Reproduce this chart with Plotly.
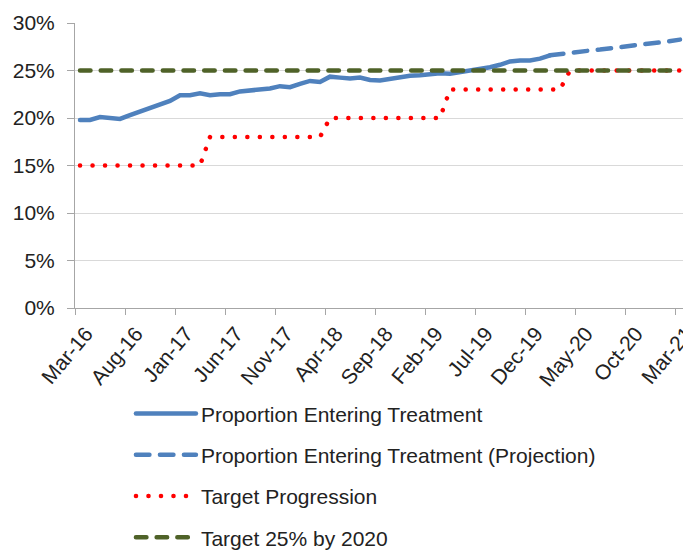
import pandas as pd
import plotly.graph_objects as go

# Monthly categories, Mar-16 to Mar-21
MONTHS = pd.period_range("2016-03", "2021-03", freq="M").strftime("%b-%y").tolist()
TICK_LABELS = ["Mar-16", "Aug-16", "Jan-17", "Jun-17", "Nov-17", "Apr-18", "Sep-18",
               "Feb-19", "Jul-19", "Dec-19", "May-20", "Oct-20", "Mar-21"]

# Proportion entering treatment (%), Mar-16 .. Feb-20
ACTUAL = [19.8, 19.8, 20.1, 20.0, 19.9, 20.3, 20.65, 21.0, 21.4, 21.8,
          22.4, 22.4, 22.6, 22.4, 22.5, 22.5, 22.8, 22.9, 23.0, 23.1,
          23.35, 23.25, 23.6, 23.9, 23.8, 24.35, 24.25, 24.15, 24.25, 24.0,
          23.95, 24.15, 24.3, 24.45, 24.5, 24.6, 24.7, 24.65, 24.8, 24.95,
          25.2, 25.35, 25.6, 25.95, 26.05, 26.05, 26.25, 26.6]
# Projection (%), Feb-20 .. Mar-21
PROJECTION = [26.6, 26.75, 26.85, 27.0, 27.1, 27.2, 27.35, 27.45, 27.6, 27.7,
              27.85, 27.95, 28.1, 28.25]
# Target progression by financial year (%)
TARGET_PROGRESSION = [15.0] * 13 + [18.0] * 12 + [20.0] * 12 + [23.0] * 12 + [25.0] * 12
# Flat 25% target
TARGET_2020 = [25.0] * 61

x_all = list(range(len(MONTHS)))
x_actual = x_all[:len(ACTUAL)]
x_proj = x_all[len(ACTUAL) - 1:len(ACTUAL) - 1 + len(PROJECTION)]

BLUE = "#4F81BD"
RED = "#FF0000"
OLIVE = "#4F6228"
TEXT = "#222222"
FONT = "Liberation Sans, Arial, sans-serif"

fig = go.Figure()
fig.add_trace(go.Scatter(x=x_actual, y=ACTUAL, mode="lines",
                         name="Proportion Entering Treatment", legendgroup="a",
                         line=dict(color=BLUE, width=4.5)))
fig.add_trace(go.Scatter(x=x_proj, y=PROJECTION, mode="lines",
                         name="Proportion Entering Treatment (Projection)", legendgroup="b",
                         line=dict(color=BLUE, width=4.5, dash="13.5px,10.5px")))
fig.add_trace(go.Scatter(x=x_all, y=TARGET_PROGRESSION, mode="lines",
                         name="Target Progression", legendgroup="c",
                         line=dict(color=RED, width=4.5, dash="0.1px,12.4px")))
fig.add_trace(go.Scatter(x=x_all, y=TARGET_2020, mode="lines",
                         name="Target 25% by 2020", legendgroup="d",
                         line=dict(color=OLIVE, width=4.5, dash="10.5px,10.2px")))

tickvals = [MONTHS.index(t) for t in TICK_LABELS]
boundaries = [v - 0.5 for v in tickvals]

fig.update_layout(
    width=683, height=550,
    margin=dict(l=75, r=0, t=23, b=242),
    paper_bgcolor="white", plot_bgcolor="white",
    font=dict(family=FONT, size=21, color=TEXT),
    showlegend=True,
    legend=dict(x=0.092, y=0.285, xref="paper", yref="container",
                xanchor="left", yanchor="top",
                traceorder="grouped", tracegroupgap=11, itemwidth=60,
                font=dict(family=FONT, size=21, color=TEXT),
                bgcolor="rgba(0,0,0,0)"),
    xaxis=dict(range=[-0.5, 60.3], tickmode="array", tickvals=tickvals,
               ticktext=TICK_LABELS, tickangle=-50, ticks="",
               ticklabelshift=6, ticklabelstandoff=4, ticklabeloverflow="allow",
               showline=True, linecolor="#A6A6A6", linewidth=1,
               showgrid=False, zeroline=False, automargin=False,
               tickfont=dict(family=FONT, size=21, color=TEXT),
               minor=dict(tickmode="array", tickvals=boundaries, ticks="outside",
                          ticklen=6, tickcolor="#A6A6A6", tickwidth=1, showgrid=False)),
    yaxis=dict(range=[0, 30], tickmode="linear", tick0=0, dtick=5, ticksuffix="%",
               showline=True, linecolor="#A6A6A6", linewidth=1,
               ticks="outside", ticklen=7, tickcolor="#A6A6A6",
               showgrid=True, gridcolor="#D9D9D9", gridwidth=1,
               zeroline=False, automargin=False, ticklabelstandoff=8,
               tickfont=dict(family=FONT, size=21, color=TEXT)),
)

# Rounded line caps so dotted and dashed strokes render as round dots / pills
post = ("document.querySelectorAll('#{plot_id} path.js-line').forEach("
        "function(p){p.style.strokeLinecap='round';});")
fig.write_html("out.html", post_script=post)
